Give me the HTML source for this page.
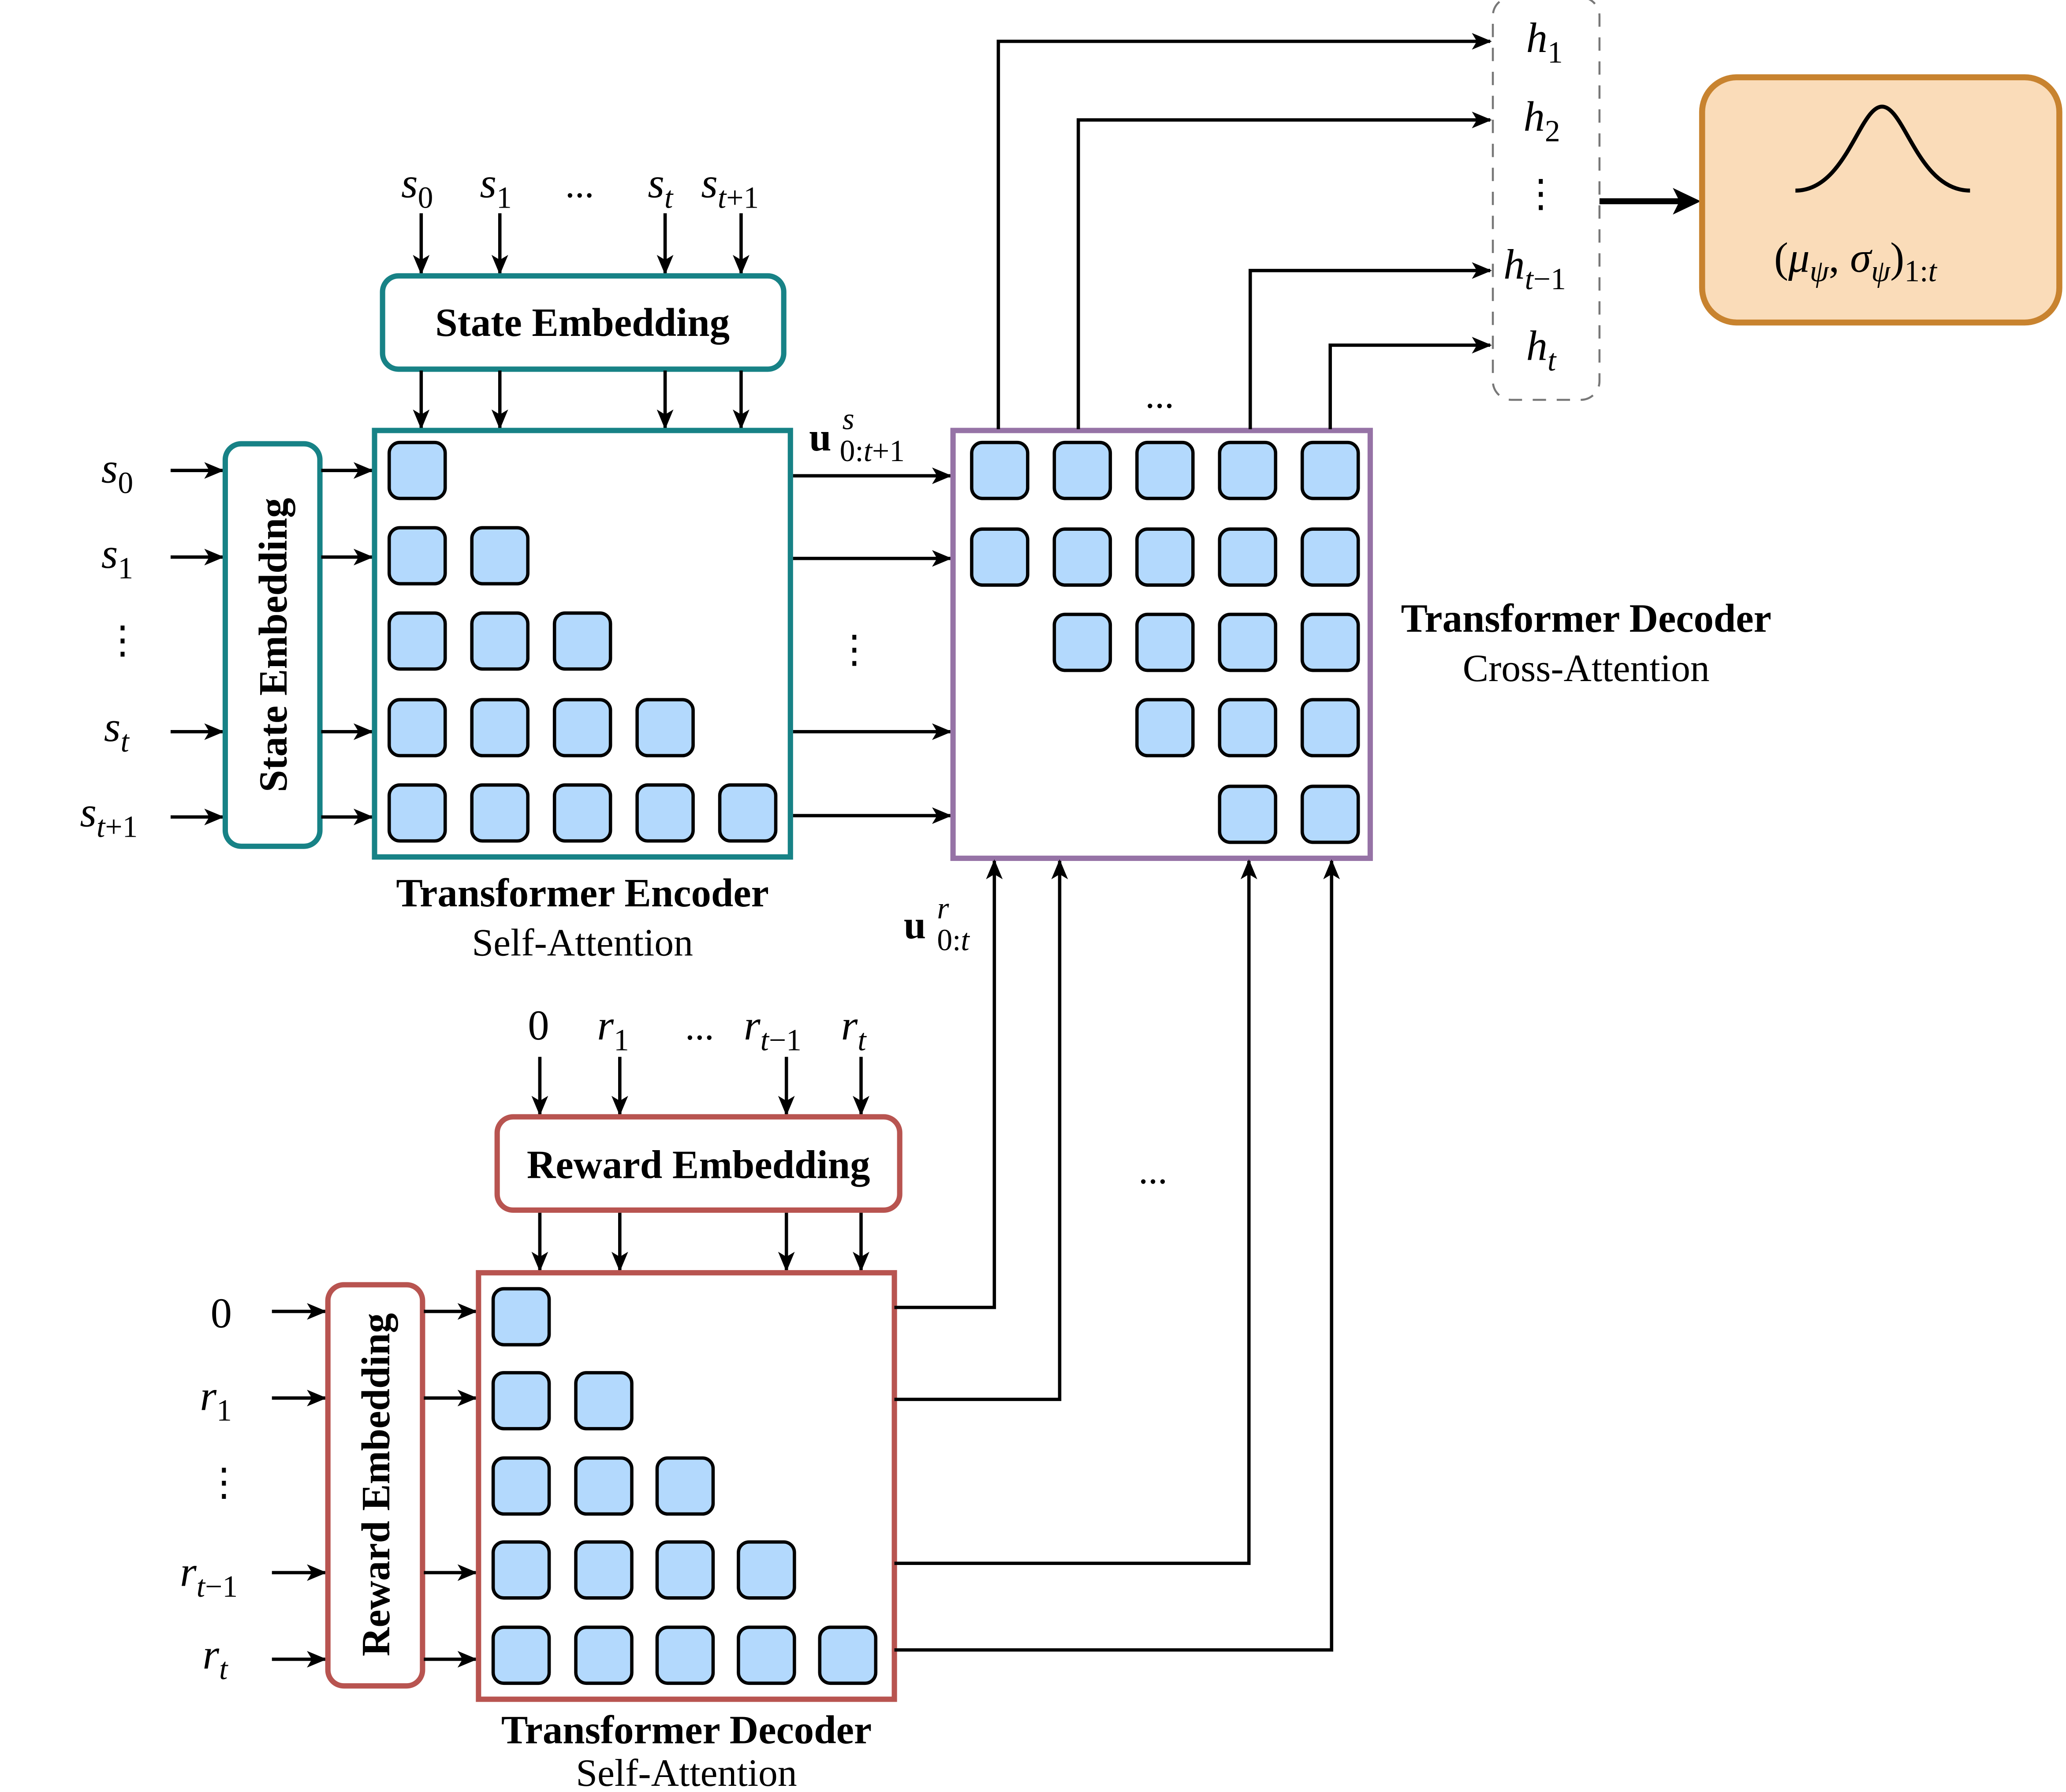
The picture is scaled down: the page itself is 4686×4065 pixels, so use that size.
<!DOCTYPE html>
<html><head><meta charset="utf-8">
<style>
html,body{margin:0;padding:0;background:#fff;}
svg{display:block;}
text{font-family:"Liberation Serif",serif;fill:#000;}
.m{font-style:italic;font-size:32px;}
.s{font-style:normal;font-size:23px;}
.si{font-style:italic;font-size:23px;}
.b{font-weight:bold;font-size:30px;}
.n{font-size:29px;}
.c{fill:#b3d9fd;stroke:#000;stroke-width:2.5;}
.a{stroke:#000;stroke-width:2.5;fill:none;marker-end:url(#ah);}
.l{stroke:#000;stroke-width:2.5;fill:none;}
</style></head>
<body>
<svg width="4686" height="4065" viewBox="0 0 1550 1344.6" preserveAspectRatio="none" xmlns="http://www.w3.org/2000/svg">
<defs>
<marker id="ah" viewBox="0 0 12 10" refX="11" refY="5" markerWidth="6" markerHeight="5" orient="auto" markerUnits="strokeWidth">
<path d="M0,0 L12,5 L0,10 L3,5 Z" fill="#000"/>
</marker>
</defs>

<!-- ============ STATE ENCODER ============ -->
<text class="m" x="301" y="148">s<tspan class="s" dy="8">0</tspan></text>
<text class="m" x="360" y="148">s<tspan class="s" dy="8">1</tspan></text>
<text class="n" x="424" y="148">...</text>
<text class="m" x="486" y="148">s<tspan class="si" dy="8">t</tspan></text>
<text class="m" x="526" y="148">s<tspan class="si" dy="8">t</tspan><tspan class="s">+1</tspan></text>
<line class="a" x1="316" y1="160" x2="316" y2="205"/>
<line class="a" x1="375" y1="160" x2="375" y2="205"/>
<line class="a" x1="499" y1="160" x2="499" y2="205"/>
<line class="a" x1="556" y1="160" x2="556" y2="205"/>
<rect x="287" y="207" width="301" height="70" rx="12" fill="#fff" stroke="#178286" stroke-width="4"/>
<text class="b" x="437" y="252" text-anchor="middle">State Embedding</text>
<line class="a" x1="316" y1="278" x2="316" y2="321"/>
<line class="a" x1="375" y1="278" x2="375" y2="321"/>
<line class="a" x1="499" y1="278" x2="499" y2="321"/>
<line class="a" x1="556" y1="278" x2="556" y2="321"/>

<text class="m" x="76" y="362">s<tspan class="s" dy="8">0</tspan></text>
<text class="m" x="76" y="426">s<tspan class="s" dy="8">1</tspan></text>
<text class="n" x="92" y="490" text-anchor="middle">⋮</text>
<text class="m" x="78" y="556">s<tspan class="si" dy="8">t</tspan></text>
<text class="m" x="60" y="620">s<tspan class="si" dy="8">t</tspan><tspan class="s">+1</tspan></text>
<line class="a" x1="128" y1="353" x2="167" y2="353"/>
<line class="a" x1="128" y1="418" x2="167" y2="418"/>
<line class="a" x1="128" y1="549" x2="167" y2="549"/>
<line class="a" x1="128" y1="613" x2="167" y2="613"/>
<rect x="169" y="333" width="71" height="302" rx="12" fill="#fff" stroke="#178286" stroke-width="4"/>
<text class="b" x="0" y="0" text-anchor="middle" transform="translate(215,484) rotate(-90)">State Embedding</text>
<line class="a" x1="241" y1="353" x2="279" y2="353"/>
<line class="a" x1="241" y1="418" x2="279" y2="418"/>
<line class="a" x1="241" y1="549" x2="279" y2="549"/>
<line class="a" x1="241" y1="613" x2="279" y2="613"/>

<rect x="281" y="323" width="312" height="320" fill="#fff" stroke="#178286" stroke-width="4"/>
<g>
<rect class="c" x="292" y="332" width="42" height="42" rx="8"/>
<rect class="c" x="292" y="396" width="42" height="42" rx="8"/><rect class="c" x="354" y="396" width="42" height="42" rx="8"/>
<rect class="c" x="292" y="460" width="42" height="42" rx="8"/><rect class="c" x="354" y="460" width="42" height="42" rx="8"/><rect class="c" x="416" y="460" width="42" height="42" rx="8"/>
<rect class="c" x="292" y="525" width="42" height="42" rx="8"/><rect class="c" x="354" y="525" width="42" height="42" rx="8"/><rect class="c" x="416" y="525" width="42" height="42" rx="8"/><rect class="c" x="478" y="525" width="42" height="42" rx="8"/>
<rect class="c" x="292" y="589" width="42" height="42" rx="8"/><rect class="c" x="354" y="589" width="42" height="42" rx="8"/><rect class="c" x="416" y="589" width="42" height="42" rx="8"/><rect class="c" x="478" y="589" width="42" height="42" rx="8"/><rect class="c" x="540" y="589" width="42" height="42" rx="8"/>
</g>
<text class="b" x="437" y="680" text-anchor="middle">Transformer Encoder</text>
<text class="n" x="437" y="717" text-anchor="middle">Self-Attention</text>

<line class="a" x1="595" y1="357" x2="713" y2="357"/>
<line class="a" x1="595" y1="419" x2="713" y2="419"/>
<line class="a" x1="595" y1="549" x2="713" y2="549"/>
<line class="a" x1="595" y1="612" x2="713" y2="612"/>
<text x="607" y="338" style="font-weight:bold;font-size:30px;">u</text>
<text class="si" x="632" y="322">s</text>
<text class="s" x="630" y="346">0:<tspan font-style="italic">t</tspan>+1</text>
<text class="n" x="641" y="497" text-anchor="middle">⋮</text>

<!-- ============ CROSS DECODER ============ -->
<rect x="715" y="323" width="313" height="321" fill="#fff" stroke="#9673a6" stroke-width="4"/>
<g>
<rect class="c" x="729" y="332" width="42" height="42" rx="8"/><rect class="c" x="791" y="332" width="42" height="42" rx="8"/><rect class="c" x="853" y="332" width="42" height="42" rx="8"/><rect class="c" x="915" y="332" width="42" height="42" rx="8"/><rect class="c" x="977" y="332" width="42" height="42" rx="8"/>
<rect class="c" x="729" y="397" width="42" height="42" rx="8"/><rect class="c" x="791" y="397" width="42" height="42" rx="8"/><rect class="c" x="853" y="397" width="42" height="42" rx="8"/><rect class="c" x="915" y="397" width="42" height="42" rx="8"/><rect class="c" x="977" y="397" width="42" height="42" rx="8"/>
<rect class="c" x="791" y="461" width="42" height="42" rx="8"/><rect class="c" x="853" y="461" width="42" height="42" rx="8"/><rect class="c" x="915" y="461" width="42" height="42" rx="8"/><rect class="c" x="977" y="461" width="42" height="42" rx="8"/>
<rect class="c" x="853" y="525" width="42" height="42" rx="8"/><rect class="c" x="915" y="525" width="42" height="42" rx="8"/><rect class="c" x="977" y="525" width="42" height="42" rx="8"/>
<rect class="c" x="915" y="590" width="42" height="42" rx="8"/><rect class="c" x="977" y="590" width="42" height="42" rx="8"/>
</g>
<text class="b" x="1190" y="474" text-anchor="middle">Transformer Decoder</text>
<text class="n" x="1190" y="511" text-anchor="middle">Cross-Attention</text>

<polyline class="a" points="749,322 749,31 1118,31"/>
<polyline class="a" points="809,322 809,90 1118,90"/>
<polyline class="a" points="938,322 938,203 1118,203"/>
<polyline class="a" points="998,322 998,259 1118,259"/>
<text class="n" x="870" y="306" text-anchor="middle">...</text>

<rect x="1120" y="-2" width="80" height="302" rx="14" fill="none" stroke="#777" stroke-width="1.5" stroke-dasharray="10,8"/>
<text class="m" x="1145" y="39">h<tspan class="s" dy="8">1</tspan></text>
<text class="m" x="1143" y="98">h<tspan class="s" dy="8">2</tspan></text>
<text class="n" x="1156" y="155" text-anchor="middle">⋮</text>
<text class="m" x="1128" y="209">h<tspan class="si" dy="8">t</tspan><tspan class="s">−1</tspan></text>
<text class="m" x="1145" y="270">h<tspan class="si" dy="8">t</tspan></text>

<line x1="1200" y1="151" x2="1262" y2="151" stroke="#000" stroke-width="4.5"/>
<path d="M1276,151 L1255,141 L1260,151 L1255,161 Z" fill="#000"/>

<rect x="1277" y="58" width="268" height="184" rx="26" fill="#fadcb9" stroke="#c8832f" stroke-width="4.5"/>
<path d="M1347,143 C1385,143 1395,80 1412,80 C1429,80 1439,143 1478,143" fill="none" stroke="#000" stroke-width="3"/>
<text x="1331" y="204" style="font-size:32px;">(<tspan font-style="italic">μ</tspan><tspan class="si" dy="7">ψ</tspan><tspan dy="-7">, </tspan><tspan font-style="italic">σ</tspan><tspan class="si" dy="7">ψ</tspan><tspan dy="-7">)</tspan><tspan class="s" dy="7">1:<tspan font-style="italic">t</tspan></tspan></text>

<!-- ============ REWARD DECODER ============ -->
<text x="396" y="780" style="font-size:32px;">0</text>
<text class="m" x="448" y="780">r<tspan class="s" dy="8">1</tspan></text>
<text class="n" x="514" y="780">...</text>
<text class="m" x="558" y="780">r<tspan class="si" dy="8">t</tspan><tspan class="s">−1</tspan></text>
<text class="m" x="631" y="780">r<tspan class="si" dy="8">t</tspan></text>
<line class="a" x1="405" y1="793" x2="405" y2="836"/>
<line class="a" x1="465" y1="793" x2="465" y2="836"/>
<line class="a" x1="590" y1="793" x2="590" y2="836"/>
<line class="a" x1="646" y1="793" x2="646" y2="836"/>
<rect x="373" y="838" width="302" height="70" rx="12" fill="#fff" stroke="#b85450" stroke-width="4"/>
<text class="b" x="524" y="884" text-anchor="middle">Reward Embedding</text>
<line class="a" x1="405" y1="910" x2="405" y2="953"/>
<line class="a" x1="465" y1="910" x2="465" y2="953"/>
<line class="a" x1="590" y1="910" x2="590" y2="953"/>
<line class="a" x1="646" y1="910" x2="646" y2="953"/>

<text x="158" y="996" style="font-size:32px;">0</text>
<text class="m" x="150" y="1058">r<tspan class="s" dy="8">1</tspan></text>
<text class="n" x="168" y="1122" text-anchor="middle">⋮</text>
<text class="m" x="135" y="1190">r<tspan class="si" dy="8">t</tspan><tspan class="s">−1</tspan></text>
<text class="m" x="152" y="1252">r<tspan class="si" dy="8">t</tspan></text>
<line class="a" x1="204" y1="984" x2="244" y2="984"/>
<line class="a" x1="204" y1="1049" x2="244" y2="1049"/>
<line class="a" x1="204" y1="1180" x2="244" y2="1180"/>
<line class="a" x1="204" y1="1245" x2="244" y2="1245"/>
<rect x="246" y="964" width="71" height="301" rx="12" fill="#fff" stroke="#b85450" stroke-width="4"/>
<text class="b" x="0" y="0" text-anchor="middle" transform="translate(292,1114) rotate(-90)">Reward Embedding</text>
<line class="a" x1="318" y1="984" x2="357" y2="984"/>
<line class="a" x1="318" y1="1049" x2="357" y2="1049"/>
<line class="a" x1="318" y1="1180" x2="357" y2="1180"/>
<line class="a" x1="318" y1="1245" x2="357" y2="1245"/>

<rect x="359" y="955" width="312" height="320" fill="#fff" stroke="#b85450" stroke-width="4"/>
<g>
<rect class="c" x="370" y="967" width="42" height="42" rx="8"/>
<rect class="c" x="370" y="1030" width="42" height="42" rx="8"/><rect class="c" x="432" y="1030" width="42" height="42" rx="8"/>
<rect class="c" x="370" y="1094" width="42" height="42" rx="8"/><rect class="c" x="432" y="1094" width="42" height="42" rx="8"/><rect class="c" x="493" y="1094" width="42" height="42" rx="8"/>
<rect class="c" x="370" y="1157" width="42" height="42" rx="8"/><rect class="c" x="432" y="1157" width="42" height="42" rx="8"/><rect class="c" x="493" y="1157" width="42" height="42" rx="8"/><rect class="c" x="554" y="1157" width="42" height="42" rx="8"/>
<rect class="c" x="370" y="1221" width="42" height="42" rx="8"/><rect class="c" x="432" y="1221" width="42" height="42" rx="8"/><rect class="c" x="493" y="1221" width="42" height="42" rx="8"/><rect class="c" x="554" y="1221" width="42" height="42" rx="8"/><rect class="c" x="615" y="1221" width="42" height="42" rx="8"/>
</g>
<text class="b" x="515" y="1308" text-anchor="middle">Transformer Decoder</text>
<text class="n" x="515" y="1340" text-anchor="middle">Self-Attention</text>

<polyline class="a" points="671,981 746,981 746,646"/>
<polyline class="a" points="671,1050 795,1050 795,646"/>
<polyline class="a" points="671,1173 937,1173 937,646"/>
<polyline class="a" points="671,1238 999,1238 999,646"/>
<text x="678" y="704" style="font-weight:bold;font-size:30px;">u</text>
<text class="si" x="703" y="689">r</text>
<text class="s" x="703" y="713">0:<tspan font-style="italic">t</tspan></text>
<text class="n" x="865" y="888" text-anchor="middle">...</text>
</svg>
</body></html>
